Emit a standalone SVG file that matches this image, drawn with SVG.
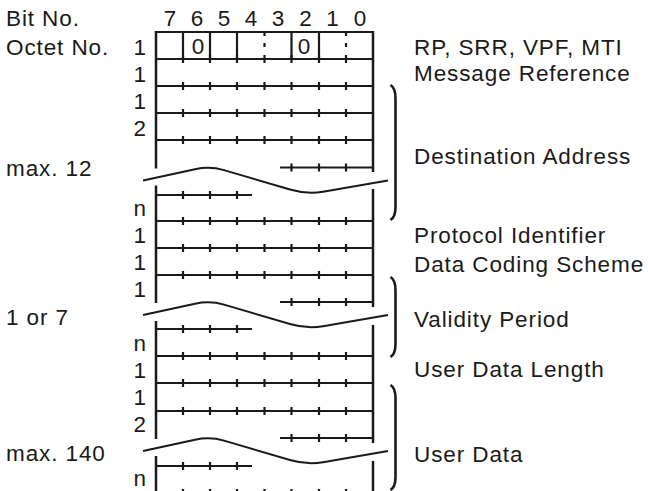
<svg xmlns="http://www.w3.org/2000/svg" xmlns:xlink="http://www.w3.org/1999/xlink" width="648" height="491" viewBox="0 0 648 491">
<style>
text{font-family:"Liberation Sans",Arial,sans-serif;font-size:22.5px;fill:#1a1a1a;letter-spacing:0.9px}
.bit{text-anchor:middle;letter-spacing:0}
.oct{text-anchor:end;letter-spacing:0}
.ln{fill:none;stroke:#1a1a1a;stroke-width:2.2}
.bd{fill:none;stroke:#1a1a1a;stroke-width:2.5}
.wv{fill:none;stroke:#1a1a1a;stroke-width:2}
.br{fill:none;stroke:#1a1a1a;stroke-width:2.6}
</style>
<defs>
<path id="full" class="ln" d="M156,0H373M183,-4v8M210,-4v8M237,-4v8M264.5,-4v8M291.5,-4v8M319,-4v8M346,-4v8"/>
<path id="partR" class="ln" d="M280,0H373M291.5,-4v8M319,-4v8M346,-4v8"/>
<path id="partL" class="ln" d="M156,0H252M183,-4v8M210,-4v8M237,-4v8"/>
<path id="wave" class="wv" d="M143,13L195,1.7Q210,-1.5 224,2.6L290,22Q307,27 323,24.2L388,13"/>
</defs>

<g id="headings">
<text x="6" y="26">Bit No.</text>
<text x="6" y="55">Octet No.</text>
<text class="bit" x="170" y="26">7</text>
<text class="bit" x="197" y="26">6</text>
<text class="bit" x="224" y="26">5</text>
<text class="bit" x="251" y="26">4</text>
<text class="bit" x="278" y="26">3</text>
<text class="bit" x="305.5" y="26">2</text>
<text class="bit" x="332.5" y="26">1</text>
<text class="bit" x="360" y="26">0</text>
</g>

<g id="frame">
<path class="ln" d="M156,32H373"/>
<path class="ln" d="M183,32V59M210,32V59M237,32V59M291.5,32V59M319,32V59M264.5,32v4M264.5,43v4M346,32v4M346,43v4"/>
<text class="bit" x="198" y="54">0</text>
<text class="bit" x="304" y="54">0</text>
<use href="#full" y="59"/>
<use href="#full" y="86"/>
<use href="#full" y="113"/>
<use href="#full" y="140"/>
<use href="#partR" y="167.5"/>
<use href="#wave" y="167.5"/>
<use href="#partL" y="195"/>
<use href="#full" y="221"/>
<use href="#full" y="248"/>
<use href="#full" y="275"/>
<use href="#partR" y="302"/>
<use href="#wave" y="302"/>
<use href="#partL" y="329"/>
<use href="#full" y="356"/>
<use href="#full" y="383"/>
<use href="#full" y="411"/>
<use href="#partR" y="438"/>
<use href="#wave" y="438"/>
<use href="#partL" y="466"/>
<use href="#full" y="493"/>
<path class="bd" d="M156,31V168.5M156,185.5V303M156,321V439M156,456V495"/>
<path class="bd" d="M373,31V172M373,189V307M373,325V443M373,461V495"/>
</g>

<g id="octets">
<text class="oct" x="146" y="55">1</text>
<text class="oct" x="146" y="82">1</text>
<text class="oct" x="146" y="109">1</text>
<text class="oct" x="146" y="136">2</text>
<text class="oct" x="146" y="216">n</text>
<text class="oct" x="146" y="243">1</text>
<text class="oct" x="146" y="270">1</text>
<text class="oct" x="146" y="297">1</text>
<text class="oct" x="146" y="351">n</text>
<text class="oct" x="146" y="378">1</text>
<text class="oct" x="146" y="405">1</text>
<text class="oct" x="146" y="432">2</text>
<text class="oct" x="146" y="486">n</text>
<text x="6" y="176">max. 12</text>
<text x="6" y="325">1 or 7</text>
<text x="6" y="461">max. 140</text>
</g>

<g id="braces">
<path class="br" d="M390.5,85Q395.5,88 395.5,98V207Q395.5,217 390.5,220"/>
<path class="br" d="M390.5,277Q395.5,280 395.5,290V344Q395.5,354 390.5,357"/>
<path class="br" d="M390.5,385Q395.5,388 395.5,398V477Q395.5,487 390.5,490"/>
</g>

<g id="fields">
<text x="414" y="55">RP, SRR, VPF, MTI</text>
<text x="414" y="81">Message Reference</text>
<text x="414" y="164">Destination Address</text>
<text x="414" y="243">Protocol Identifier</text>
<text x="414" y="272">Data Coding Scheme</text>
<text x="414" y="327">Validity Period</text>
<text x="414" y="377">User Data Length</text>
<text x="414" y="462">User Data</text>
</g>
</svg>
